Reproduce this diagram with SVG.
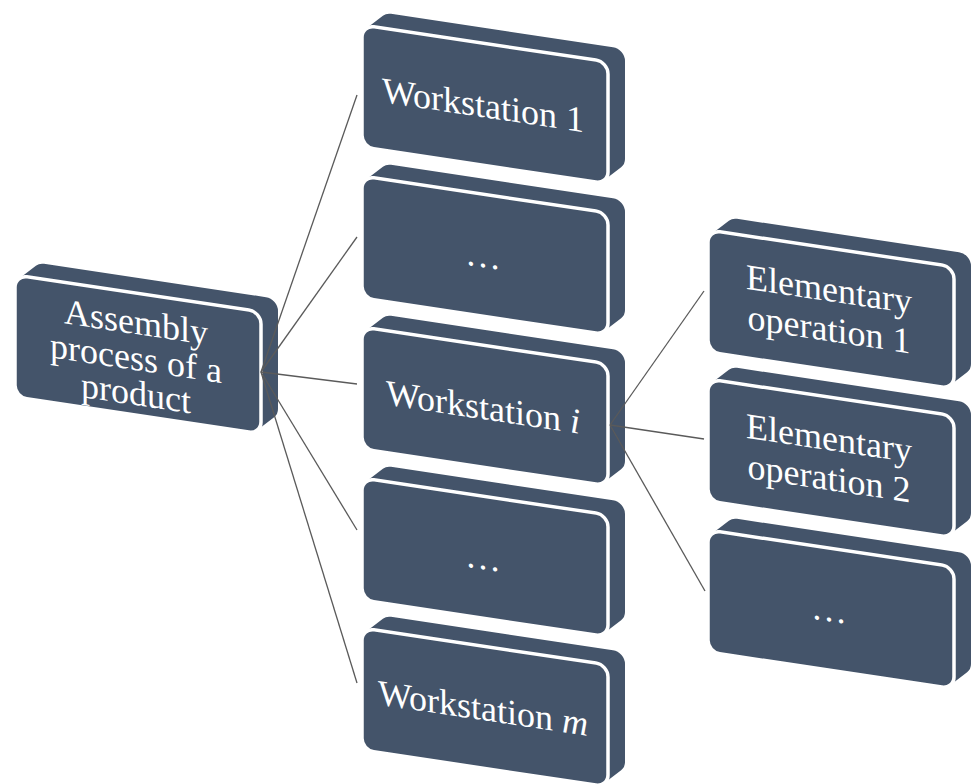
<svg xmlns="http://www.w3.org/2000/svg" xmlns:xlink="http://www.w3.org/1999/xlink" width="973" height="784" viewBox="0 0 973 784">
<style>
.slab{fill:#44546a}
.face{fill:#44546a;stroke:#ffffff;stroke-width:3.5}
.t{font-family:"Liberation Serif","Times New Roman",serif;font-size:36px;fill:#ffffff;text-anchor:middle}
.c{stroke:#5a5a5a;stroke-width:1.3;fill:none}
</style>
<defs>
<path id="slab" class="slab" d="M3.9,3.1 L20.9,-12.4 A12,12 0 0 1 29,-15.5 H251 A12,12 0 0 1 263,-3.5 V94.5 A12,12 0 0 1 259.1,103.4 L242.1,118.9 A12,12 0 0 1 234,122 H12 A12,12 0 0 1 0,110 V12 A12,12 0 0 1 3.9,3.1 Z"/>
<rect id="face" class="face" x="0" y="0" width="246" height="122" rx="12" ry="12"/>
</defs>
<rect width="973" height="784" fill="#ffffff"/>

<g id="assembly" transform="matrix(1 0.15 0 1 15 275)">
<use xlink:href="#slab"/><use xlink:href="#face"/>
<text class="t"><tspan x="121" y="41">Assembly</tspan><tspan x="121" y="77">process of a</tspan><tspan x="121" y="112">product</tspan></text>
</g>

<g id="ws1" transform="matrix(1 0.15 0 1 362 25)">
<use xlink:href="#slab"/><use xlink:href="#face"/>
<text class="t" x="121" y="74">Workstation 1</text>
</g>
<g id="ws2" transform="matrix(1 0.15 0 1 362 176)">
<use xlink:href="#slab"/><use xlink:href="#face"/>
<text class="t" x="121" y="73">…</text>
</g>
<g id="wsi" transform="matrix(1 0.15 0 1 362 327)">
<use xlink:href="#slab"/><use xlink:href="#face"/>
<text class="t" x="121" y="74">Workstation <tspan font-style="italic">i</tspan></text>
</g>
<g id="ws4" transform="matrix(1 0.15 0 1 362 478)">
<use xlink:href="#slab"/><use xlink:href="#face"/>
<text class="t" x="121" y="73">…</text>
</g>
<g id="wsm" transform="matrix(1 0.15 0 1 362 628)">
<use xlink:href="#slab"/><use xlink:href="#face"/>
<text class="t" x="121" y="74">Workstation <tspan font-style="italic">m</tspan></text>
</g>

<g id="op1" transform="matrix(1 0.15 0 1 708 230)">
<use xlink:href="#slab"/><use xlink:href="#face"/>
<text class="t"><tspan x="121" y="53">Elementary</tspan><tspan x="121" y="93">operation 1</tspan></text>
</g>
<g id="op2" transform="matrix(1 0.15 0 1 708 379)">
<use xlink:href="#slab"/><use xlink:href="#face"/>
<text class="t"><tspan x="121" y="53">Elementary</tspan><tspan x="121" y="93">operation 2</tspan></text>
</g>
<g id="op3" transform="matrix(1 0.15 0 1 708 530)">
<use xlink:href="#slab"/><use xlink:href="#face"/>
<text class="t" x="121" y="73">…</text>
</g>

<g id="connectors">
<line class="c" x1="261" y1="372" x2="357" y2="95"/>
<line class="c" x1="261" y1="372" x2="357" y2="237"/>
<line class="c" x1="261" y1="372" x2="357" y2="384"/>
<line class="c" x1="261" y1="372" x2="357" y2="530"/>
<line class="c" x1="261" y1="372" x2="357" y2="683"/>
<line class="c" x1="610" y1="425" x2="704" y2="291"/>
<line class="c" x1="610" y1="425" x2="704" y2="439"/>
<line class="c" x1="610" y1="425" x2="705" y2="591"/>
</g>
</svg>
